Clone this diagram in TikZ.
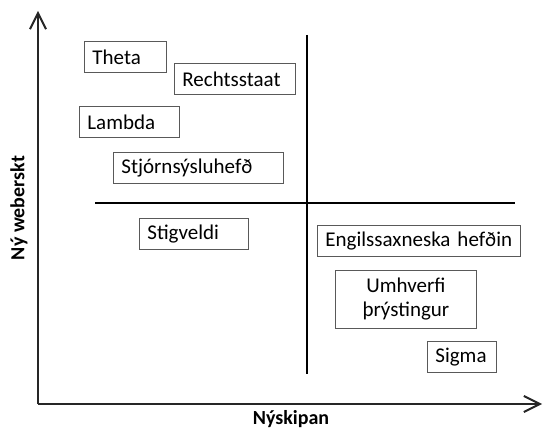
\documentclass[tikz,border=0pt]{standalone}
\usepackage{fontspec}
\setmainfont{Carlito}
\usetikzlibrary{arrows.meta,positioning}

\begin{document}
\begin{tikzpicture}[x=1pt,y=-1pt,>={Straight Barb[length=16pt,width=16pt,line width=2pt]},
  every node/.style={font=\fontsize{21}{24}\selectfont},
  box/.style={draw=black!65,line width=0.8pt,anchor=north west,inner xsep=8pt,inner ysep=0pt,minimum height=31pt,align=left},
  axis/.style={draw=black!85,line width=2.2pt},
  divider/.style={draw=black,line width=2pt},
  axislabel/.style={font=\fontsize{20}{24}\selectfont\bfseries}]
\useasboundingbox (0,0) rectangle (543,430);
\coordinate (o) at (38,404);
\coordinate (ytip) at (38,11);
\coordinate (xtip) at (542,404);
\coordinate (vtop) at (307,35);
\coordinate (vbot) at (307,374);
\coordinate (hleft) at (95,203);
\coordinate (hright) at (515,203);

\draw[axis,->] (o) -- (ytip);
\draw[axis,->] (o) -- (xtip);
\draw[divider] (vtop) -- (vbot);
\draw[divider] (hleft) -- (hright);

\node[axislabel,rotate=90] (weber) at (19,208) {Ný weberskt};
\node[axislabel] (nyskipan) at (291,419) {Nýskipan};

\node[box,text width=66pt]  (theta)  at (84,41)   {Theta};
\node[box,text width=105pt] (recht)  at (174,63)  {Rechtsstaat};
\node[box,text width=84pt]  (lambda) at (79,106)  {Lambda};
\node[box,text width=154pt] (stjorn) at (113,152) {Stjórnsýsluhefð};
\node[box,text width=93pt]  (stig)   at (139,218) {Stigveldi};
\node[box,text width=187pt] (engil)  at (317,225) {Engilssaxneska hefðin};
\node[box,text width=125pt,align=center,minimum height=58pt] (umhv) at (335,270) {Umhverfi\\þrýstingur};
\node[box,text width=53pt]  (sigma)  at (427,341) {Sigma};
\end{tikzpicture}
\end{document}
